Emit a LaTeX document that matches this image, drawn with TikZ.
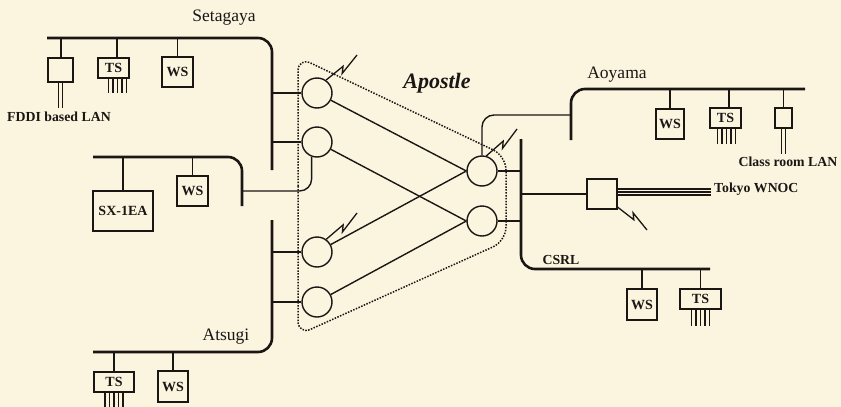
\documentclass[tikz,border=0pt]{standalone}
\usepackage{fontspec}
\setmainfont{Liberation Serif}
\usetikzlibrary{calc}
\definecolor{paper}{RGB}{251,245,224}
\definecolor{ink}{RGB}{25,22,20}
\newcommand\zap[3]{\draw[bolt] (#1) -- ($(#1)!0.55!(#2)$) -- ($(#1)!0.42!(#2)!5pt!#3:(#2)$) -- (#2);}
\newcommand\pins[3]{\foreach \dx in {-9,-4.5,0,4.5,9}{\draw[pin] ($(#1.south)+(#2+\dx,0)$) -- ++(0,#3);}}
\begin{document}
\begin{tikzpicture}[x=1pt,y=-1pt,
 bus/.style={draw=ink,line width=2.6pt,rounded corners=14pt},
 thin/.style={draw=ink,line width=1.4pt},
 pin/.style={draw=ink,line width=1.1pt},
 router/.style={circle,draw=ink,line width=1.4pt,minimum size=30pt,inner sep=0pt},
 hostbox/.style={draw=ink,line width=1.4pt,fill=paper,inner sep=0pt,text=ink,font=\bfseries\fontsize{14}{14}\selectfont},
 lbl/.style={font=\fontsize{17.5}{18}\selectfont,text=ink,inner sep=0pt},
 blbl/.style={font=\bfseries\fontsize{13.8}{14}\selectfont,text=ink,inner sep=0pt},
 group/.style={draw=ink,line width=1.5pt,dash pattern=on 1.5pt off 1.4pt,rounded corners=14pt},
 bolt/.style={draw=ink,line width=1.3pt},
]
\path[fill=paper] (0,0) rectangle (841,407);
\useasboundingbox (0,0) rectangle (841,407);

% buses
\draw[bus] (47,38) -- (272,38) -- (272,170);
\draw[bus] (93,157) -- (242,157) -- (242,206);
\draw[bus] (272,220) -- (272,352) -- (93,352);
\draw[bus] (805,89) -- (571,89) -- (571,140);
\draw[bus] (521,139) -- (521,269) -- (710,269);

% routers
\node[router] (c1) at (317,93) {};
\node[router] (c2) at (317,142) {};
\node[router] (c3) at (317,252) {};
\node[router] (c4) at (317,302) {};
\node[router] (r1) at (482,171) {};
\node[router] (r2) at (482,221) {};

% taps
\coordinate (t1) at (272,93);
\coordinate (t2) at (272,142);
\coordinate (t3) at (272,252);
\coordinate (t4) at (272,302);
\coordinate (sxb) at (242,191);
\coordinate (aoyb) at (571,115);
\coordinate (u1) at (521,171);
\coordinate (u2) at (521,221);
\coordinate (u3) at (521,194);

\draw[thin] (t1) -- (c1.west);
\draw[thin] (t2) -- (c2.west);
\draw[thin] (t3) -- (c3.west);
\draw[thin] (t4) -- (c4.west);
\draw[thin,rounded corners=12pt] (sxb) -| (c2.250);
\draw[thin,rounded corners=12pt] (aoyb) -| (r1.north);
\draw[thin] (r1.east) -- (u1);
\draw[thin] (r2.east) -- (u2);

\draw[thin] (c1) -- (r1.west);
\draw[thin] (c3) -- (r1.west);
\draw[thin] (c2) -- (r2.west);
\draw[thin] (c4) -- (r2.west);

% Apostle group
\draw[group] (298,200) -- (298,57) -- (506,156) -- (506,241) -- (298,335) -- cycle;
\node[font=\bfseries\itshape\fontsize{22}{24}\selectfont,text=ink,inner sep=0pt] (lap) at (437,83) {Apostle};

% lightning
\coordinate (z1) at (357,55);
\coordinate (z3) at (357,213);
\coordinate (zr) at (517,129);
\coordinate (zw) at (647,230);
\zap{c1.55}{z1}{-90}
\zap{c3.54}{z3}{-90}
\zap{r1.74}{zr}{-90}

% Setagaya hosts
\node[hostbox,minimum width=25pt,minimum height=24pt] (sfd) at (60.5,70) {};
\node[hostbox,minimum width=31pt,minimum height=20pt] (sts) at (113.5,68) {TS};
\node[hostbox,minimum width=31pt,minimum height=30pt] (sws) at (177.5,72) {WS};
\coordinate (sfd-t) at (61,38);
\coordinate (sts-t) at (117,38);
\coordinate (sws-t) at (177.5,38);
\draw[thin] (sfd-t) -- (sfd-t |- sfd.north);
\draw[thin] (sts-t) -- (sts-t |- sts.north);
\draw[thin] (sws-t) -- (sws-t |- sws.north);
\draw[thin] ($(sfd.south)+(-2,0)$) -- ++(0,25);
\draw[thin] ($(sfd.south)+(2,0)$) -- ++(0,25);
\pins{sts}{4}{14}
\node[blbl] (lfddi) at (59,117) {FDDI based LAN};
\node[lbl] (lset) at (224,18) {Setagaya};

% SX bus hosts
\node[hostbox,minimum width=60pt,minimum height=40pt] (sx) at (123,211) {SX-1EA};
\node[hostbox,minimum width=31pt,minimum height=30pt] (xws) at (192.5,191) {WS};
\coordinate (sx-t) at (123,157);
\coordinate (xws-t) at (192.5,157);
\draw[thin] (sx-t) -- (sx.north);
\draw[thin] (xws-t) -- (xws.north);

% Atsugi hosts
\node[hostbox,minimum width=40pt,minimum height=20pt] (ats) at (114,382) {TS};
\node[hostbox,minimum width=30pt,minimum height=31pt] (aws) at (173,386.5) {WS};
\coordinate (ats-t) at (114,352);
\coordinate (aws-t) at (173,352);
\draw[thin] (ats-t) -- (ats.north);
\draw[thin] (aws-t) -- (aws.north);
\pins{ats}{0}{16}
\node[lbl] (latsu) at (226,337) {Atsugi};

% Aoyama hosts
\node[hostbox,minimum width=28pt,minimum height=30pt] (yws) at (670,124) {WS};
\node[hostbox,minimum width=31pt,minimum height=20pt] (yts) at (725.5,118) {TS};
\node[hostbox,minimum width=17pt,minimum height=20pt] (ycl) at (783.5,118) {};
\coordinate (yws-t) at (670,89);
\coordinate (yts-t) at (729,89);
\coordinate (ycl-t) at (783.5,89);
\draw[thin] (yws-t) -- (yws.north);
\draw[thin] (yts-t) -- (yts-t |- yts.north);
\draw[thin] (ycl-t) -- (ycl.north);
\pins{yts}{1}{15}
\draw[thin] ($(ycl.south)+(-2,0)$) -- ++(0,25);
\draw[thin] ($(ycl.south)+(2,0)$) -- ++(0,25);
\node[blbl] (lclass) at (788,162) {Class room LAN};
\node[lbl] (laoy) at (617,75) {Aoyama};

% Tokyo WNOC
\node[hostbox,minimum width=30pt,minimum height=30pt] (wn) at (602,194) {};
\draw[thin] (u3) -- (wn.west);
\foreach \dy in {-5,-2,1}{\draw[pin] ($(wn.east)+(0,\dy)$) -- ++(93,0);}
\node[blbl,anchor=west] (lwnoc) at (714,189) {Tokyo WNOC};
\zap{wn.-40}{zw}{90}

% CSRL hosts
\node[hostbox,minimum width=30pt,minimum height=31pt] (cws) at (642,304.5) {WS};
\node[hostbox,minimum width=41pt,minimum height=20pt] (cts) at (700.5,299) {TS};
\coordinate (cws-t) at (642,269);
\coordinate (cts-t) at (700.5,269);
\draw[thin] (cws-t) -- (cws.north);
\draw[thin] (cts-t) -- (cts.north);
\pins{cts}{0}{16}
\node[blbl] (lcsrl) at (561,260) {CSRL};
\end{tikzpicture}
\end{document}
